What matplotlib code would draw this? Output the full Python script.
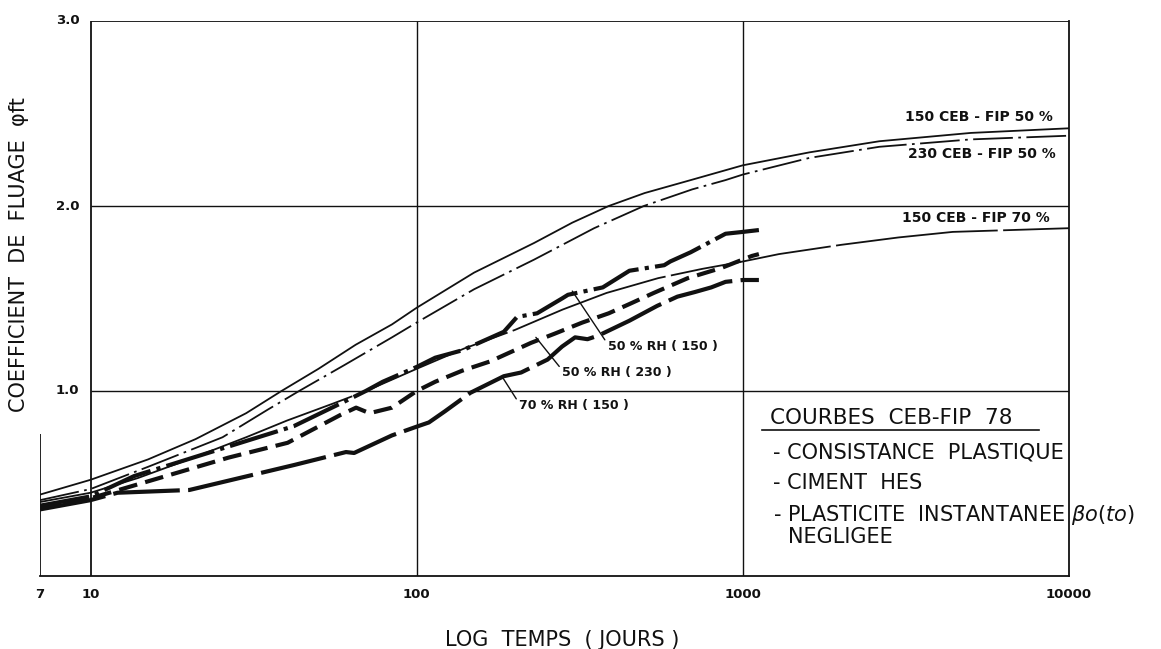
import numpy as np
import matplotlib.pyplot as plt
from matplotlib.ticker import NullLocator

# CEB-FIP 78 model curves : age (days) / creep coefficient
t_ceb150_50 = [7, 10, 15, 21, 30, 38.5, 50, 65, 84, 100, 150, 229, 300, 388, 500, 692,
               1000, 1600, 2620, 5000, 10000]
phi_ceb150_50 = [0.44, 0.52, 0.63, 0.74, 0.88, 1.0, 1.12, 1.25, 1.36, 1.45, 1.64, 1.80, 1.91, 2.0,
                 2.07, 2.14, 2.22, 2.29, 2.35, 2.395, 2.42]

t_ceb230_50 = [7, 10, 15, 25.4, 35, 43.6, 60, 84, 100, 150, 229, 350, 497, 700, 885,
               1000, 1600, 2620, 5000, 10000]
phi_ceb230_50 = [0.41, 0.47, 0.59, 0.75, 0.90, 1.0, 1.14, 1.29, 1.37, 1.55, 1.71, 1.88, 2.0, 2.09, 2.14,
                 2.17, 2.26, 2.32, 2.36, 2.38]

t_ceb150_70 = [7, 10, 14, 20, 30, 40, 55, 70, 100, 140, 200, 280, 382, 550, 750,
               1000, 1290, 2000, 3000, 4400, 10000]
phi_ceb150_70 = [0.40, 0.45, 0.53, 0.63, 0.75, 0.84, 0.93, 1.0, 1.12, 1.23, 1.33, 1.44, 1.53, 1.61, 1.66,
                 1.70, 1.74, 1.79, 1.83, 1.86, 1.88]

# measured curves
t_rh50_150 = [7, 10, 13.6, 26.5, 42, 59.6, 69.8, 78.7, 100, 114, 138, 185, 203, 234,
              279, 291, 372, 449, 574, 599, 692, 885, 1000, 1120]
phi_rh50_150 = [0.38, 0.43, 0.54, 0.70, 0.81, 0.94, 1.0, 1.05, 1.13, 1.18, 1.22, 1.32, 1.40, 1.42,
                1.50, 1.52, 1.56, 1.65, 1.68, 1.70, 1.75, 1.85, 1.86, 1.87]

t_rh50_230 = [7, 10, 26.5, 40.2, 58.3, 65.2, 71.7, 84, 100, 114, 138, 168, 224, 265,
              322, 388, 449, 533, 678, 859, 1066, 1120]
phi_rh50_230 = [0.37, 0.42, 0.64, 0.72, 0.87, 0.91, 0.88, 0.91, 1.0, 1.05, 1.11, 1.16, 1.26, 1.31,
                1.37, 1.42, 1.47, 1.53, 1.61, 1.665, 1.73, 1.74]

t_rh70_150 = [7, 10, 12.1, 20.1, 42.1, 60.7, 64.3, 84, 101, 109, 122, 146, 185, 209,
              252, 279, 306, 334, 361, 449, 546, 630, 713, 800, 885, 1000, 1120]
phi_rh70_150 = [0.36, 0.41, 0.45, 0.465, 0.60, 0.67, 0.665, 0.76, 0.81, 0.83, 0.89, 0.99, 1.08, 1.10,
                1.17, 1.24, 1.29, 1.28, 1.30, 1.38, 1.46, 1.51, 1.535, 1.56, 1.59, 1.60, 1.60]

x_ticks = [7, 10, 100, 1000, 10000]
x_tick_labels = ["7", "10", "100", "1000", "10000"]
y_ticks = [1.0, 2.0, 3.0]
y_tick_labels = ["1.0", "2.0", "3.0"]

ink = "#111111"

fig = plt.figure(figsize=(11.61, 6.49), dpi=100)
ax = fig.add_axes([40 / 1161, 1 - 576 / 649, 1029 / 1161, 555 / 649])
ax.set_xscale("log")
ax.set_xlim(7, 10000)
ax.set_ylim(0, 3)

# frame: box from 10 to 10000, short extension down to 7 days
for s in ["left", "top"]:
    ax.spines[s].set_visible(False)
for s in ["bottom", "right"]:
    ax.spines[s].set_linewidth(1.3)
    ax.spines[s].set_color(ink)
ax.vlines(10, 0, 3, color=ink, lw=1.3)
ax.hlines(3, 10, 10000, color=ink, lw=1.3)
ax.vlines(7, 0, 0.77, color=ink, lw=1.3)
ax.vlines([100, 1000], 0, 3, color=ink, lw=1.0)
ax.hlines([1, 2], 10, 10000, color=ink, lw=1.0)

# curves
ax.plot(t_ceb150_50, phi_ceb150_50, color=ink, lw=1.3)
ax.plot(t_ceb230_50, phi_ceb230_50, color=ink, lw=1.3, ls=(0, (22, 3, 1.5, 3)))
ax.plot(t_ceb150_70, phi_ceb150_70, color=ink, lw=1.3, ls=(0, (90, 3)))
ax.plot(t_rh50_150, phi_rh50_150, color=ink, lw=3.0, ls=(0, (12, 1.5, 1, 1.5)))
ax.plot(t_rh50_230, phi_rh50_230, color=ink, lw=3.0, ls=(0, (4.5, 2)))
ax.plot(t_rh70_150, phi_rh70_150, color=ink, lw=3.0, ls=(0, (16, 2)))

# ticks
ax.set_xticks(x_ticks)
ax.set_xticklabels(x_tick_labels, fontsize=9.5, fontweight="bold", color=ink)
ax.xaxis.set_minor_locator(NullLocator())
ax.tick_params(axis="x", length=0, pad=9)
ax.set_yticks([])
for v, lbl in zip(y_ticks, y_tick_labels):
    ax.annotate(lbl, (10, v), xytext=(-8, 0), textcoords="offset points",
                ha="right", va="center", fontsize=9.5, fontweight="bold", color=ink)

fig.text(19 / 1161, 1 - 255 / 649, "COEFFICIENT  DE  FLUAGE  φft", rotation=90,
         ha="center", va="center", fontsize=15, color=ink)
fig.text(562 / 1161, 1 - 640 / 649, "LOG  TEMPS  ( JOURS )", ha="center", va="center",
         fontsize=15, color=ink)

# curve labels
ax.text(8900, 2.48, "150 CEB - FIP 50 %", ha="right", va="center", fontsize=10,
        fontweight="bold", color=ink)
ax.text(9100, 2.28, "230 CEB - FIP 50 %", ha="right", va="center", fontsize=10,
        fontweight="bold", color=ink)
ax.text(8700, 1.935, "150 CEB - FIP 70 %", ha="right", va="center", fontsize=10,
        fontweight="bold", color=ink)

leader = dict(arrowstyle="-", lw=1.0, color=ink, shrinkA=0, shrinkB=0, relpos=(0, 0.7))
ax.annotate("50 % RH ( 150 )", xy=(300, 1.54), xytext=(385, 1.24), ha="left", va="center",
            fontsize=9, fontweight="bold", color=ink, arrowprops=leader)
ax.annotate("50 % RH ( 230 )", xy=(232, 1.29), xytext=(279, 1.10), ha="left", va="center",
            fontsize=9, fontweight="bold", color=ink, arrowprops=leader)
ax.annotate("70 % RH ( 150 )", xy=(183, 1.076), xytext=(206, 0.92), ha="left", va="center",
            fontsize=9, fontweight="bold", color=ink, arrowprops=leader)

# notes in the lower right cell
ax.text(0.709, 0.285, "COURBES  CEB-FIP  78", transform=ax.transAxes, ha="left",
        va="center", fontsize=15.5, color=ink)
ax.plot([0.702, 0.971], [0.263, 0.263], transform=ax.transAxes, color=ink, lw=1.2)
ax.text(0.712, 0.223, "- CONSISTANCE  PLASTIQUE", transform=ax.transAxes, ha="left",
        va="center", fontsize=15, color=ink)
ax.text(0.712, 0.168, "- CIMENT  HES", transform=ax.transAxes, ha="left",
        va="center", fontsize=15, color=ink)
ax.text(0.712, 0.110, r"- PLASTICITE  INSTANTANEE $\beta o(to)$", transform=ax.transAxes,
        ha="left", va="center", fontsize=15, color=ink)
ax.text(0.727, 0.070, "NEGLIGEE", transform=ax.transAxes, ha="left",
        va="center", fontsize=15, color=ink)

fig.savefig("out.png", dpi=100)
